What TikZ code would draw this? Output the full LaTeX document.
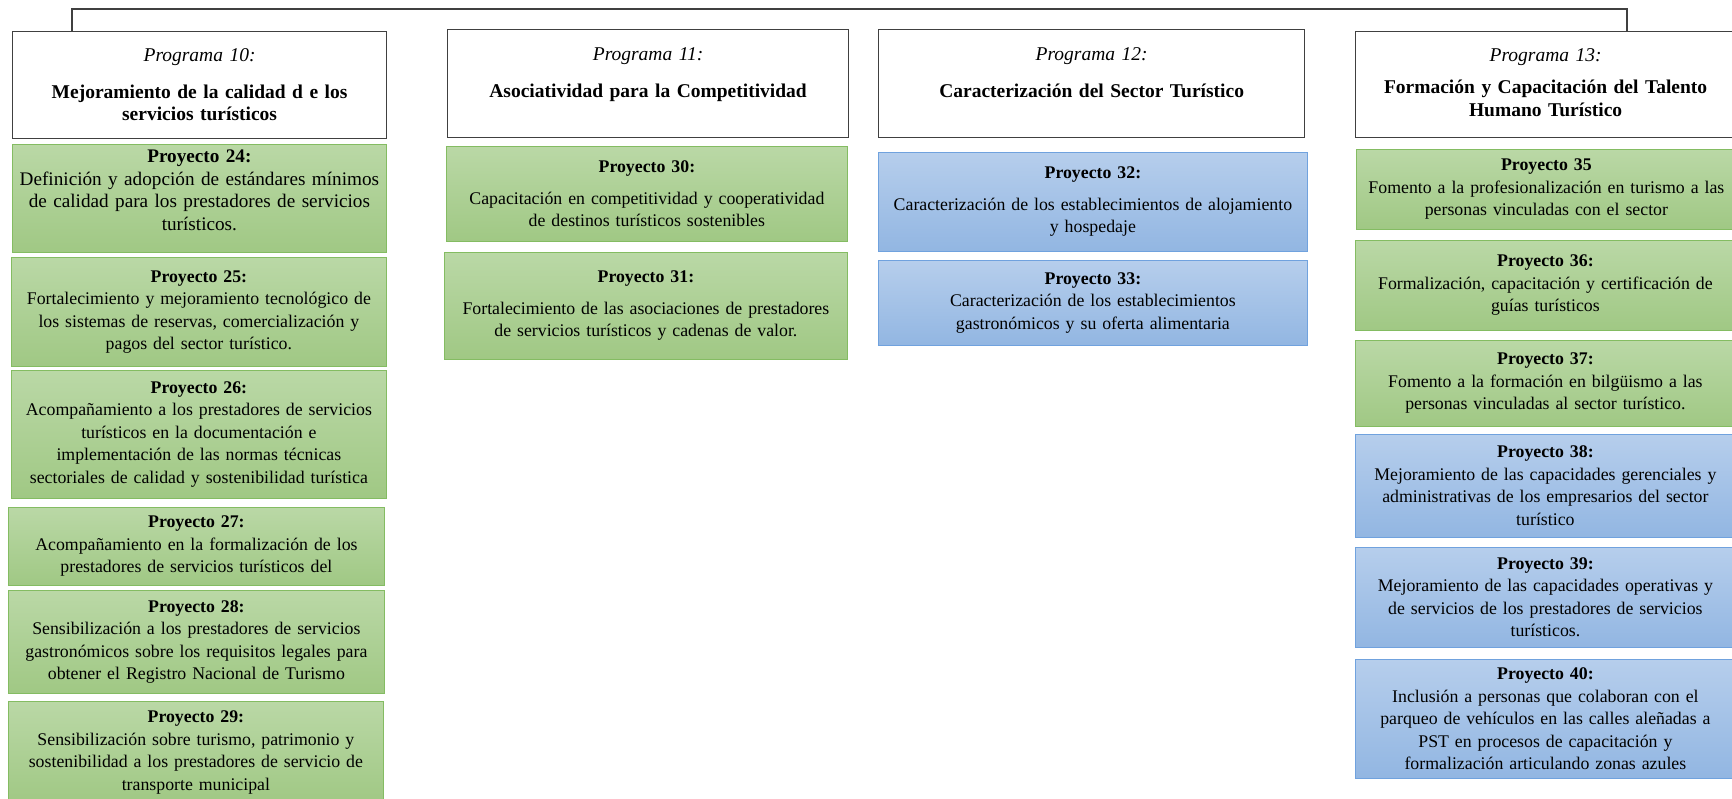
\documentclass[tikz,border=0pt]{standalone}
\usepackage{fontspec}
\setmainfont{Liberation Serif}
\usetikzlibrary{calc}

\definecolor{verdeA}{RGB}{186,216,166}
\definecolor{verdeB}{RGB}{160,200,132}
\definecolor{verdeL}{RGB}{132,188,98}
\definecolor{azulA}{RGB}{182,206,236}
\definecolor{azulB}{RGB}{146,182,226}
\definecolor{azulL}{RGB}{112,162,222}

\tikzset{
  caja/.style={anchor=north west, align=center, inner sep=2pt,
    font=\fontsize{17.8}{22.5}\selectfont},
  programa/.style={caja, draw=black!75, line width=1.2pt, fill=white,
    font=\fontsize{19.5}{22.5}\selectfont},
  verde/.style={caja, draw=verdeL, line width=0.8pt, top color=verdeA, bottom color=verdeB},
  azul/.style={caja, draw=azulL, line width=0.8pt, top color=azulA, bottom color=azulB}
}

\begin{document}
\begin{tikzpicture}[x=1pt,y=-1pt]

	%% Marco del dibujo
	\useasboundingbox (0,0) rectangle (1732,799);
	\clip (0,0) rectangle (1732,799);

	%% Programa 10
	\node[programa, minimum width=374, minimum height=107, text width=366] (p10) at (12,31)
	  {\textit{Programa 10:}\\[14pt] \textbf{Mejoramiento de la calidad d e los}\\ \textbf{servicios turísticos}};
	\node[verde, minimum width=374, minimum height=108, text width=366,
	  font=\fontsize{19.2}{22.5}\selectfont] (y24) at (12,144)
	  {\textbf{Proyecto 24:}\\ Definición y adopción de estándares mínimos\\ de calidad para los prestadores de servicios\\ turísticos.\\[-6pt]\mbox{}};
	\node[verde, minimum width=375, minimum height=109, text width=366] (y25) at (11,257)
	  {\textbf{Proyecto 25:}\\ Fortalecimiento y mejoramiento tecnológico de\\ los sistemas de reservas, comercialización y\\ pagos del sector turístico.};
	\node[verde, minimum width=375, minimum height=128, text width=366] (y26) at (11,370)
	  {\textbf{Proyecto 26:}\\ Acompañamiento a los prestadores de servicios\\ turísticos en la documentación e\\ implementación de las normas técnicas\\ sectoriales de calidad y sostenibilidad turística};
	\node[verde, minimum width=376, minimum height=78, text width=366] (y27) at (8,507)
	  {\textbf{Proyecto 27:}\\ Acompañamiento en la formalización de los\\ prestadores de servicios turísticos del};
	\node[verde, minimum width=376, minimum height=103, text width=366] (y28) at (8,590)
	  {\textbf{Proyecto 28:}\\ Sensibilización a los prestadores de servicios\\ gastronómicos sobre los requisitos legales para\\ obtener el Registro Nacional de Turismo};
	\node[verde, minimum width=375, minimum height=102, text width=366] (y29) at (8,701)
	  {\textbf{Proyecto 29:}\\ Sensibilización sobre turismo, patrimonio y\\ sostenibilidad a los prestadores de servicio de\\ transporte municipal};

	%% Programa 11
	\node[programa, minimum width=401, minimum height=108, text width=392] (p11) at (447,29)
	  {\textit{Programa 11:}\\[14pt] \textbf{Asociatividad para la Competitividad}\\ \mbox{}};
	\node[verde, minimum width=401, minimum height=95, text width=392] (y30) at (446,146)
	  {\textbf{Proyecto 30:}\\[9pt] Capacitación en competitividad y cooperatividad\\ de destinos turísticos sostenibles};
	\node[verde, minimum width=403, minimum height=107, text width=394] (y31) at (444,252)
	  {\textbf{Proyecto 31:}\\[9pt] Fortalecimiento de las asociaciones de prestadores\\ de servicios turísticos y cadenas de valor.};

	%% Programa 12
	\node[programa, minimum width=426, minimum height=108, text width=418] (p12) at (878,29)
	  {\textit{Programa 12:}\\[14pt] \textbf{Caracterización del Sector Turístico}\\ \mbox{}};
	\node[azul, minimum width=429, minimum height=99, text width=420] (y32) at (878,152)
	  {\textbf{Proyecto 32:}\\[9pt] Caracterización de los establecimientos de alojamiento\\ y hospedaje};
	\node[azul, minimum width=429, minimum height=85, text width=420] (y33) at (878,260)
	  {\textbf{Proyecto 33:}\\ Caracterización de los establecimientos\\ gastronómicos y su oferta alimentaria};

	%% Programa 13
	\node[programa, minimum width=380, minimum height=106, text width=372] (p13) at (1355,31)
	  {\textit{Programa 13:}\\[10pt] \textbf{Formación y Capacitación del Talento}\\ \textbf{Humano Turístico}\\[-18pt]\mbox{}};
	\node[verde, minimum width=380, minimum height=80, text width=372] (y35) at (1356,149)
	  {\textbf{Proyecto 35}\\ Fomento a la profesionalización en turismo a las\\ personas vinculadas con el sector};
	\node[verde, minimum width=380, minimum height=90, text width=372] (y36) at (1355,240)
	  {\textbf{Proyecto 36:}\\ Formalización, capacitación y certificación de\\ guías turísticos};
	\node[verde, minimum width=380, minimum height=86, text width=372] (y37) at (1355,340)
	  {\textbf{Proyecto 37:}\\ Fomento a la formación en bilgüismo a las\\ personas vinculadas al sector turístico.};
	\node[azul, minimum width=380, minimum height=103, text width=372] (y38) at (1355,434)
	  {\textbf{Proyecto 38:}\\ Mejoramiento de las capacidades gerenciales y\\ administrativas de los empresarios del sector\\ turístico};
	\node[azul, minimum width=380, minimum height=100, text width=372] (y39) at (1355,547)
	  {\textbf{Proyecto 39:}\\ Mejoramiento de las capacidades operativas y\\ de servicios de los prestadores de servicios\\ turísticos.};
	\node[azul, minimum width=380, minimum height=119, text width=372] (y40) at (1355,659)
	  {\textbf{Proyecto 40:}\\ Inclusión a personas que colaboran con el\\ parqueo de vehículos en las calles aleñadas a\\ PST en procesos de capacitación y\\ formalización articulando zonas azules};

	%% Linea superior que une los programas
	\coordinate (topL) at (72,9); % esquina izquierda
	\coordinate (topR) at (1627,9); % esquina derecha
	\draw[black!75, line width=1.2pt] (p10.north -| topL) -- (topL) -- (topR) -- (p13.north -| topR);

\end{tikzpicture}
\end{document}
